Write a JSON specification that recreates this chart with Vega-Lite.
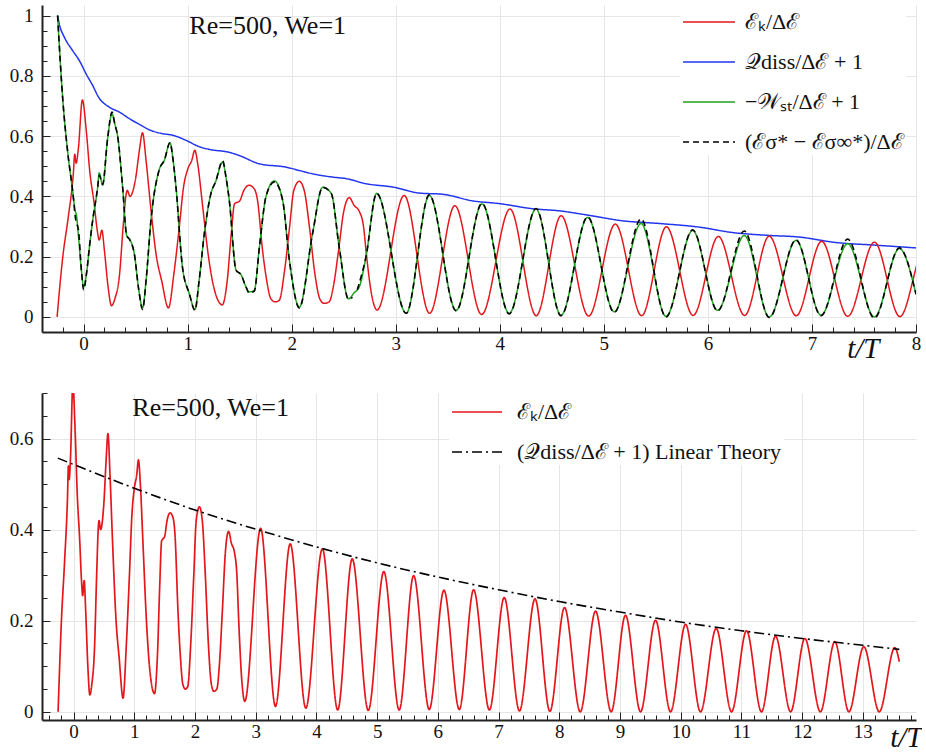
{
"$schema": "https://vega.github.io/schema/vega-lite/v6.json",
"background": "white",
"padding": {"left": 9, "top": -7, "right": 0, "bottom": 0},
"autosize": {"type": "pad"},
"spacing": 61,
"bounds": "flush",
"config": {"view": {"stroke": null}},
"resolve": {"scale": {"color": "independent", "strokeDash": "independent"}, "legend": {"color": "independent", "strokeDash": "independent"}},
"datasets": {
"curves": [
{"s":"ek","t":-0.255,"v":0},{"s":"ek","t":-0.2,"v":0.2},{"s":"ek","t":-0.148,"v":0.33},{"s":"ek","t":-0.1,"v":0.47},{"s":"ek","t":-0.085,"v":0.54},{"s":"ek","t":-0.072,"v":0.51},{"s":"ek","t":-0.05,"v":0.56},{"s":"ek","t":-0.012,"v":0.72},{"s":"ek","t":0.025,"v":0.62},{"s":"ek","t":0.06,"v":0.48},{"s":"ek","t":0.1,"v":0.38},{"s":"ek","t":0.13,"v":0.29},{"s":"ek","t":0.15,"v":0.255},{"s":"ek","t":0.175,"v":0.288},{"s":"ek","t":0.2,"v":0.22},{"s":"ek","t":0.235,"v":0.1},{"s":"ek","t":0.268,"v":0.037},{"s":"ek","t":0.3,"v":0.06},{"s":"ek","t":0.345,"v":0.14},{"s":"ek","t":0.38,"v":0.3},{"s":"ek","t":0.41,"v":0.41},{"s":"ek","t":0.42,"v":0.42},{"s":"ek","t":0.445,"v":0.4},{"s":"ek","t":0.5,"v":0.46},{"s":"ek","t":0.535,"v":0.55},{"s":"ek","t":0.566,"v":0.611},{"s":"ek","t":0.6,"v":0.52},{"s":"ek","t":0.64,"v":0.38},{"s":"ek","t":0.7,"v":0.2},{"s":"ek","t":0.75,"v":0.12},{"s":"ek","t":0.815,"v":0.03},{"s":"ek","t":0.87,"v":0.15},{"s":"ek","t":0.92,"v":0.3},{"s":"ek","t":0.96,"v":0.43},{"s":"ek","t":1.0,"v":0.49},{"s":"ek","t":1.04,"v":0.52},{"s":"ek","t":1.068,"v":0.553},{"s":"ek","t":1.1,"v":0.5},{"s":"ek","t":1.14,"v":0.38},{"s":"ek","t":1.2,"v":0.2},{"s":"ek","t":1.25,"v":0.1},{"s":"ek","t":1.333,"v":0.04},{"s":"ek","t":1.38,"v":0.12},{"s":"ek","t":1.42,"v":0.28},{"s":"ek","t":1.45,"v":0.375},{"s":"ek","t":1.5,"v":0.385},{"s":"ek","t":1.54,"v":0.42},{"s":"ek","t":1.59,"v":0.437},{"s":"ek","t":1.64,"v":0.425},{"s":"ek","t":1.67,"v":0.39},{"s":"ek","t":1.72,"v":0.22},{"s":"ek","t":1.76,"v":0.12},{"s":"ek","t":1.8,"v":0.06},{"s":"ek","t":1.84,"v":0.05},{"s":"ek","t":1.88,"v":0.055},{"s":"ek","t":1.93,"v":0.15},{"s":"ek","t":1.98,"v":0.3},{"s":"ek","t":2.02,"v":0.42},{"s":"ek","t":2.073,"v":0.45},{"s":"ek","t":2.12,"v":0.42},{"s":"ek","t":2.17,"v":0.3},{"s":"ek","t":2.22,"v":0.15},{"s":"ek","t":2.27,"v":0.06},{"s":"ek","t":2.31,"v":0.045},{"s":"ek","t":2.36,"v":0.05},{"s":"ek","t":2.4,"v":0.1},{"s":"ek","t":2.45,"v":0.22},{"s":"ek","t":2.5,"v":0.35},{"s":"ek","t":2.553,"v":0.396},{"s":"ek","t":2.6,"v":0.37},{"s":"ek","t":2.65,"v":0.35},{"s":"ek","t":2.69,"v":0.3},{"s":"ek","t":2.72,"v":0.2},{"s":"ek","t":2.77,"v":0.07},{"s":"ek","t":2.82,"v":0.023},
{"s":"ek","t":3.081,"v":0.403},{"s":"ek","t":3.325,"v":0.012},{"s":"ek","t":3.568,"v":0.369},{"s":"ek","t":3.825,"v":0.008},{"s":"ek","t":4.098,"v":0.358},{"s":"ek","t":4.35,"v":0.004},{"s":"ek","t":4.589,"v":0.336},{"s":"ek","t":4.854,"v":0.003},{"s":"ek","t":5.11,"v":0.308},{"s":"ek","t":5.363,"v":0.004},{"s":"ek","t":5.601,"v":0.299},{"s":"ek","t":5.858,"v":0.005},{"s":"ek","t":6.1,"v":0.267},{"s":"ek","t":6.353,"v":0.005},{"s":"ek","t":6.589,"v":0.268},{"s":"ek","t":6.849,"v":0.004},{"s":"ek","t":7.093,"v":0.251},{"s":"ek","t":7.344,"v":0.002},{"s":"ek","t":7.6,"v":0.248},{"s":"ek","t":7.845,"v":0.001},{"s":"ek","t":8.086,"v":0.229},{"s":"ek","t":8.345,"v":0},{"s":"ek","t":8.597,"v":0.221},{"s":"ek","t":8.855,"v":0},{"s":"ek","t":9.09,"v":0.212},{"s":"ek","t":9.338,"v":0},{"s":"ek","t":9.585,"v":0.201},{"s":"ek","t":9.832,"v":0},{"s":"ek","t":10.08,"v":0.192},{"s":"ek","t":10.326,"v":0},{"s":"ek","t":10.584,"v":0.183},{"s":"ek","t":10.837,"v":0},{"s":"ek","t":11.084,"v":0.178},{"s":"ek","t":11.33,"v":0},{"s":"ek","t":11.561,"v":0.166},{"s":"ek","t":11.81,"v":0},{"s":"ek","t":12.044,"v":0.161},{"s":"ek","t":12.3,"v":0},{"s":"ek","t":12.538,"v":0.154},{"s":"ek","t":12.77,"v":0},{"s":"ek","t":13.015,"v":0.143},{"s":"ek","t":13.27,"v":0},{"s":"ek","t":13.526,"v":0.141},{"s":"ek","t":13.6,"v":0.11},
{"s":"qd","t":-0.25,"v":1.0},{"s":"qd","t":-0.234,"v":0.972},{"s":"qd","t":-0.185,"v":0.928},{"s":"qd","t":-0.106,"v":0.884},{"s":"qd","t":-0.04,"v":0.85},{"s":"qd","t":0.023,"v":0.807},{"s":"qd","t":0.087,"v":0.768},{"s":"qd","t":0.144,"v":0.729},{"s":"qd","t":0.247,"v":0.696},{"s":"qd","t":0.343,"v":0.68},{"s":"qd","t":0.439,"v":0.658},{"s":"qd","t":0.535,"v":0.639},{"s":"qd","t":0.631,"v":0.621},{"s":"qd","t":0.76,"v":0.608},{"s":"qd","t":0.855,"v":0.603},{"s":"qd","t":0.984,"v":0.586},{"s":"qd","t":1.11,"v":0.565},{"s":"qd","t":1.208,"v":0.556},{"s":"qd","t":1.4,"v":0.546},{"s":"qd","t":1.5,"v":0.535},{"s":"qd","t":1.689,"v":0.508},{"s":"qd","t":1.945,"v":0.497},{"s":"qd","t":2.073,"v":0.486},{"s":"qd","t":2.2,"v":0.475},{"s":"qd","t":2.393,"v":0.464},{"s":"qd","t":2.52,"v":0.459},{"s":"qd","t":2.714,"v":0.442},{"s":"qd","t":2.97,"v":0.431},{"s":"qd","t":3.226,"v":0.411},{"s":"qd","t":3.45,"v":0.407},{"s":"qd","t":3.739,"v":0.385},{"s":"qd","t":3.995,"v":0.376},{"s":"qd","t":4.315,"v":0.359},{"s":"qd","t":4.572,"v":0.352},{"s":"qd","t":4.86,"v":0.337},{"s":"qd","t":5.18,"v":0.319},{"s":"qd","t":5.533,"v":0.31},{"s":"qd","t":5.917,"v":0.298},{"s":"qd","t":6.237,"v":0.28},{"s":"qd","t":6.56,"v":0.271},{"s":"qd","t":6.878,"v":0.265},{"s":"qd","t":7.23,"v":0.247},{"s":"qd","t":7.615,"v":0.238},{"s":"qd","t":8.0,"v":0.229},
{"s":"ws","t":-0.25,"v":1.0},{"s":"ws","t":-0.2,"v":0.72},{"s":"ws","t":-0.154,"v":0.55},{"s":"ws","t":-0.106,"v":0.42},{"s":"ws","t":-0.08,"v":0.35},{"s":"ws","t":-0.07,"v":0.34},{"s":"ws","t":-0.05,"v":0.27},{"s":"ws","t":-0.02,"v":0.15},{"s":"ws","t":0.0,"v":0.1},{"s":"ws","t":0.03,"v":0.15},{"s":"ws","t":0.055,"v":0.23},{"s":"ws","t":0.087,"v":0.32},{"s":"ws","t":0.135,"v":0.43},{"s":"ws","t":0.15,"v":0.478},{"s":"ws","t":0.183,"v":0.437},{"s":"ws","t":0.23,"v":0.59},{"s":"ws","t":0.273,"v":0.674},{"s":"ws","t":0.3,"v":0.64},{"s":"ws","t":0.327,"v":0.6},{"s":"ws","t":0.375,"v":0.43},{"s":"ws","t":0.414,"v":0.27},{"s":"ws","t":0.445,"v":0.257},{"s":"ws","t":0.487,"v":0.21},{"s":"ws","t":0.53,"v":0.09},{"s":"ws","t":0.567,"v":0.03},{"s":"ws","t":0.6,"v":0.12},{"s":"ws","t":0.647,"v":0.32},{"s":"ws","t":0.728,"v":0.49},{"s":"ws","t":0.776,"v":0.52},{"s":"ws","t":0.83,"v":0.578},{"s":"ws","t":0.86,"v":0.52},{"s":"ws","t":0.888,"v":0.43},{"s":"ws","t":0.95,"v":0.165},{"s":"ws","t":1.016,"v":0.077},{"s":"ws","t":1.07,"v":0.025},{"s":"ws","t":1.11,"v":0.12},{"s":"ws","t":1.16,"v":0.276},{"s":"ws","t":1.224,"v":0.41},{"s":"ws","t":1.27,"v":0.45},{"s":"ws","t":1.336,"v":0.514},{"s":"ws","t":1.37,"v":0.46},{"s":"ws","t":1.4,"v":0.387},{"s":"ws","t":1.465,"v":0.155},{"s":"ws","t":1.513,"v":0.14},{"s":"ws","t":1.56,"v":0.1},{"s":"ws","t":1.59,"v":0.083},{"s":"ws","t":1.64,"v":0.088},{"s":"ws","t":1.689,"v":0.23},{"s":"ws","t":1.753,"v":0.4},{"s":"ws","t":1.833,"v":0.451},{"s":"ws","t":1.913,"v":0.387},{"s":"ws","t":1.977,"v":0.19},{"s":"ws","t":2.073,"v":0.033},{"s":"ws","t":2.2,"v":0.276},{"s":"ws","t":2.297,"v":0.43},{"s":"ws","t":2.38,"v":0.41},{"s":"ws","t":2.457,"v":0.23},{"s":"ws","t":2.545,"v":0.06},{"s":"ws","t":2.6,"v":0.08},{"s":"ws","t":2.65,"v":0.1},{"s":"ws","t":2.714,"v":0.2},{"s":"ws","t":2.816,"v":0.41},{"s":"ws","t":3.1,"v":0.012},{"s":"ws","t":3.322,"v":0.403},{"s":"ws","t":3.58,"v":0.022},{"s":"ws","t":3.829,"v":0.375},{"s":"ws","t":4.09,"v":0.012},{"s":"ws","t":4.348,"v":0.358},{"s":"ws","t":4.588,"v":0.006},{"s":"ws","t":4.844,"v":0.33},{"s":"ws","t":5.1,"v":0.017},{"s":"ws","t":5.357,"v":0.31},{"s":"ws","t":5.597,"v":0.002},{"s":"ws","t":5.853,"v":0.287},{"s":"ws","t":6.093,"v":0.022},{"s":"ws","t":6.35,"v":0.27},{"s":"ws","t":6.59,"v":0},{"s":"ws","t":6.847,"v":0.254},{"s":"ws","t":7.087,"v":0.006},{"s":"ws","t":7.343,"v":0.243},{"s":"ws","t":7.6,"v":0},{"s":"ws","t":7.84,"v":0.227},{"s":"ws","t":8.0,"v":0.075},
{"s":"es","g":1,"t":-0.25,"v":1.0},{"s":"es","g":1,"t":-0.2,"v":0.72},{"s":"es","g":1,"t":-0.154,"v":0.55},{"s":"es","g":1,"t":-0.106,"v":0.42},{"s":"es","g":1,"t":-0.075,"v":0.32},{"s":"es","g":1,"t":-0.05,"v":0.29},{"s":"es","g":1,"t":-0.02,"v":0.15},{"s":"es","g":1,"t":0.0,"v":0.09},{"s":"es","g":1,"t":0.03,"v":0.15},{"s":"es","g":1,"t":0.055,"v":0.23},{"s":"es","g":1,"t":0.087,"v":0.32},{"s":"es","g":1,"t":0.135,"v":0.43},{"s":"es","g":1,"t":0.15,"v":0.47},{"s":"es","g":1,"t":0.183,"v":0.44},{"s":"es","g":1,"t":0.23,"v":0.59},{"s":"es","g":1,"t":0.273,"v":0.68},{"s":"es","g":1,"t":0.3,"v":0.64},{"s":"es","g":1,"t":0.327,"v":0.6},{"s":"es","g":1,"t":0.375,"v":0.43},{"s":"es","g":1,"t":0.414,"v":0.27},{"s":"es","g":1,"t":0.445,"v":0.255},{"s":"es","g":1,"t":0.487,"v":0.21},{"s":"es","g":1,"t":0.53,"v":0.09},{"s":"es","g":1,"t":0.567,"v":0.025},{"s":"es","g":1,"t":0.6,"v":0.12},{"s":"es","g":1,"t":0.647,"v":0.32},{"s":"es","g":1,"t":0.728,"v":0.49},{"s":"es","g":1,"t":0.776,"v":0.52},{"s":"es","g":1,"t":0.83,"v":0.578},{"s":"es","g":1,"t":0.86,"v":0.52},{"s":"es","g":1,"t":0.888,"v":0.43},{"s":"es","g":1,"t":0.95,"v":0.165},{"s":"es","g":1,"t":1.016,"v":0.077},{"s":"es","g":1,"t":1.07,"v":0.022},{"s":"es","g":1,"t":1.11,"v":0.12},{"s":"es","g":1,"t":1.16,"v":0.276},{"s":"es","g":1,"t":1.224,"v":0.41},{"s":"es","g":1,"t":1.27,"v":0.45},{"s":"es","g":1,"t":1.336,"v":0.518},{"s":"es","g":1,"t":1.37,"v":0.46},{"s":"es","g":1,"t":1.4,"v":0.387},{"s":"es","g":1,"t":1.465,"v":0.155},{"s":"es","g":1,"t":1.513,"v":0.14},{"s":"es","g":1,"t":1.56,"v":0.1},{"s":"es","g":1,"t":1.59,"v":0.08},{"s":"es","g":1,"t":1.64,"v":0.085},{"s":"es","g":1,"t":1.689,"v":0.23},{"s":"es","g":1,"t":1.753,"v":0.4},{"s":"es","g":1,"t":1.833,"v":0.448},{"s":"es","g":1,"t":1.913,"v":0.387},{"s":"es","g":1,"t":1.977,"v":0.19},{"s":"es","g":1,"t":2.073,"v":0.03},{"s":"es","g":1,"t":2.2,"v":0.276},{"s":"es","g":1,"t":2.297,"v":0.43},{"s":"es","g":1,"t":2.38,"v":0.41},{"s":"es","g":1,"t":2.457,"v":0.23},{"s":"es","g":1,"t":2.545,"v":0.06},{"s":"es","g":1,"t":2.585,"v":0.065},
{"s":"es","g":2,"t":2.63,"v":0.09},{"s":"es","g":2,"t":2.714,"v":0.2},{"s":"es","g":2,"t":2.816,"v":0.41},{"s":"es","g":2,"t":3.1,"v":0.012},{"s":"es","g":2,"t":3.322,"v":0.405},{"s":"es","g":2,"t":3.58,"v":0.02},{"s":"es","g":2,"t":3.829,"v":0.377},{"s":"es","g":2,"t":4.09,"v":0.01},{"s":"es","g":2,"t":4.348,"v":0.36},{"s":"es","g":2,"t":4.588,"v":0.004},{"s":"es","g":2,"t":4.844,"v":0.332},{"s":"es","g":2,"t":5.1,"v":0.015},{"s":"es","g":2,"t":5.357,"v":0.325},{"s":"es","g":2,"t":5.597,"v":0.0},{"s":"es","g":2,"t":5.853,"v":0.289},{"s":"es","g":2,"t":6.093,"v":0.02},{"s":"es","g":2,"t":6.35,"v":0.285},{"s":"es","g":2,"t":6.59,"v":-0.002},{"s":"es","g":2,"t":6.847,"v":0.256},{"s":"es","g":2,"t":7.087,"v":0.004},{"s":"es","g":2,"t":7.343,"v":0.258},{"s":"es","g":2,"t":7.6,"v":-0.004},{"s":"es","g":2,"t":7.84,"v":0.229},{"s":"es","g":2,"t":8.0,"v":0.075},
{"s":"lt","t":-0.26,"v":0.557},{"s":"lt","t":0,"v":0.543},{"s":"lt","t":1,"v":0.491},{"s":"lt","t":2,"v":0.443},{"s":"lt","t":3,"v":0.401},{"s":"lt","t":4,"v":0.362},{"s":"lt","t":5,"v":0.327},{"s":"lt","t":6,"v":0.296},{"s":"lt","t":7,"v":0.268},{"s":"lt","t":8,"v":0.242},{"s":"lt","t":9,"v":0.219},{"s":"lt","t":10,"v":0.197},{"s":"lt","t":11,"v":0.178},{"s":"lt","t":12,"v":0.161},{"s":"lt","t":13,"v":0.146},{"s":"lt","t":13.6,"v":0.137}
]
},
"vconcat": [
{
 "width": 874, "height": 327,
 "resolve": {"axis": {"x": "independent", "y": "independent"}},
 "layer": [
  {
   "data": {"name": "curves"},
   "transform": [{"filter": "datum.s == 'qd'"}],
   "mark": {"type": "line", "clip": true, "interpolate": "monotone", "strokeWidth": 1.5},
   "encoding": {
    "x": {"field": "t", "type": "quantitative", "scale": {"domain": [-0.4, 8], "nice": false, "zero": false},
     "axis": {"orient": "bottom", "values": [0,1,2,3,4,5,6,7,8], "format": "d",
      "grid": true, "gridColor": "#e6e6e6", "gridWidth": 1,
      "domain": true, "domainColor": "#222", "domainWidth": 2,
      "ticks": true, "tickSize": -8, "tickColor": "#222", "tickWidth": 1,
      "labelOverlap": false, "labelBound": false, "labelFlush": false,
      "labelFont": "Liberation Serif", "labelFontSize": 19, "labelColor": "#111", "labelPadding": 10,
      "title": "t/T", "titleFont": "Liberation Serif", "titleFontWeight": "normal", "titleColor": "#111", "titleFontStyle": "italic", "titleFontSize": 29, "titleAnchor": "end", "titleAlign": "right", "titleBaseline": "alphabetic", "titleX": 837, "titleY": 25}},
    "y": {"field": "v", "type": "quantitative", "scale": {"domain": [-0.05, 1.035], "nice": false, "zero": false},
     "axis": {"orient": "left", "values": [0,0.2,0.4,0.6,0.8,1], "format": "~g",
      "grid": true, "gridColor": "#e6e6e6", "gridWidth": 1,
      "domain": true, "domainColor": "#222", "domainWidth": 2,
      "ticks": true, "tickSize": -8, "tickColor": "#222", "tickWidth": 1,
      "labelOverlap": false, "labelBound": false, "labelFlush": false,
      "labelFont": "Liberation Serif", "labelFontSize": 19, "labelColor": "#111", "labelPadding": 17, "title": null}},
    "color": {"datum": "𝒬diss/Δℰ + 1", "type": "nominal",
     "scale": {"domain": ["ℰₖ/Δℰ", "𝒬diss/Δℰ + 1", "−𝒲ₛₜ/Δℰ + 1", "(ℰσ* − ℰσ∞*)/Δℰ"], "range": ["#e3161c", "#2236ee", "#1ea41e", "#000000"]},
     "legend": {"orient": "none", "legendX": 638, "legendY": -12, "title": null, "fillColor": "white", "padding": 2, "symbolType": "stroke", "symbolSize": 2700, "symbolStrokeWidth": 1.5, "labelFont": "Liberation Serif", "labelColor": "#111", "labelFontSize": 22, "labelOffset": 9, "rowPadding": 2, "labelLimit": 400}},
    "strokeDash": {"datum": "𝒬diss/Δℰ + 1", "type": "nominal",
     "scale": {"domain": ["ℰₖ/Δℰ", "𝒬diss/Δℰ + 1", "−𝒲ₛₜ/Δℰ + 1", "(ℰσ* − ℰσ∞*)/Δℰ"], "range": [[1,0],[1,0],[1,0],[6,4]]},
     "legend": {"orient": "none", "legendX": 638, "legendY": -12, "title": null, "fillColor": "white", "padding": 2, "symbolType": "stroke", "symbolSize": 2700, "symbolStrokeWidth": 1.5, "labelFont": "Liberation Serif", "labelColor": "#111", "labelFontSize": 22, "labelOffset": 9, "rowPadding": 2, "labelLimit": 400}}
   }
  },
  {
   "data": {"name": "curves"},
   "transform": [{"filter": "datum.s == 'ek'"}],
   "mark": {"type": "line", "clip": true, "interpolate": "monotone", "strokeWidth": 1.5},
   "encoding": {
    "x": {"field": "t", "type": "quantitative",
     "axis": {"orient": "bottom", "values": [-0.2,0.2,0.4,0.6,0.8,1.2,1.4,1.6,1.8,2.2,2.4,2.6,2.8,3.2,3.4,3.6,3.8,4.2,4.4,4.6,4.8,5.2,5.4,5.6,5.8,6.2,6.4,6.6,6.8,7.2,7.4,7.6,7.8],
      "grid": false, "domain": false, "labels": false, "ticks": true, "tickSize": -5, "tickColor": "#222", "tickWidth": 1, "title": null}},
    "y": {"field": "v", "type": "quantitative",
     "axis": {"orient": "left", "values": [-0.05,0.05,0.1,0.15,0.25,0.3,0.35,0.45,0.5,0.55,0.65,0.7,0.75,0.85,0.9,0.95],
      "grid": false, "domain": false, "labels": false, "ticks": true, "tickSize": -5, "tickColor": "#222", "tickWidth": 1, "title": null}},
    "color": {"datum": "ℰₖ/Δℰ", "type": "nominal"}, "strokeDash": {"datum": "ℰₖ/Δℰ", "type": "nominal"}}
  },
  {
   "data": {"name": "curves"},
   "transform": [{"filter": "datum.s == 'ws'"}],
   "mark": {"type": "line", "clip": true, "interpolate": "monotone", "strokeWidth": 1.5},
   "encoding": {"x": {"field": "t", "type": "quantitative", "axis": null}, "y": {"field": "v", "type": "quantitative", "axis": null}, "color": {"datum": "−𝒲ₛₜ/Δℰ + 1", "type": "nominal"}, "strokeDash": {"datum": "−𝒲ₛₜ/Δℰ + 1", "type": "nominal"}}
  },
  {
   "data": {"name": "curves"},
   "transform": [{"filter": "datum.s == 'es'"}],
   "mark": {"type": "line", "clip": true, "interpolate": "monotone", "strokeWidth": 1.6},
   "encoding": {"x": {"field": "t", "type": "quantitative", "axis": null}, "y": {"field": "v", "type": "quantitative", "axis": null}, "detail": {"field": "g"}, "color": {"datum": "(ℰσ* − ℰσ∞*)/Δℰ", "type": "nominal"}, "strokeDash": {"datum": "(ℰσ* − ℰσ∞*)/Δℰ", "type": "nominal"}}
  },
  {
   "data": {"values": [{"label": "Re=500, We=1"}]},
   "mark": {"type": "text", "align": "left", "baseline": "alphabetic", "font": "Liberation Serif", "fontSize": 26, "color": "#111"},
   "encoding": {"x": {"datum": 1.016, "type": "quantitative", "axis": null}, "y": {"datum": 0.939, "type": "quantitative", "axis": null}, "text": {"field": "label"}}
  }
 ]
},
{
 "width": 874, "height": 327,
 "resolve": {"axis": {"x": "independent", "y": "independent"}},
 "layer": [
  {
   "data": {"name": "curves"},
   "transform": [{"filter": "datum.s == 'ek'"}],
   "mark": {"type": "line", "clip": true, "interpolate": "monotone", "strokeWidth": 1.7},
   "encoding": {
    "x": {"field": "t", "type": "quantitative", "scale": {"domain": [-0.52, 13.875], "nice": false, "zero": false},
     "axis": {"orient": "bottom", "values": [0,1,2,3,4,5,6,7,8,9,10,11,12,13], "format": "d",
      "grid": true, "gridColor": "#e6e6e6", "gridWidth": 1,
      "domain": true, "domainColor": "#222", "domainWidth": 2,
      "ticks": true, "tickSize": -8, "tickColor": "#222", "tickWidth": 1,
      "labelOverlap": false, "labelBound": false, "labelFlush": false,
      "labelFont": "Liberation Serif", "labelFontSize": 19, "labelColor": "#111", "labelPadding": 10,
      "title": "t/T", "titleFont": "Liberation Serif", "titleFontWeight": "normal", "titleColor": "#111", "titleFontStyle": "italic", "titleFontSize": 29, "titleAnchor": "end", "titleAlign": "right", "titleBaseline": "alphabetic", "titleX": 880, "titleY": 26}},
    "y": {"field": "v", "type": "quantitative", "scale": {"domain": [-0.018, 0.7], "nice": false, "zero": false},
     "axis": {"orient": "left", "values": [0,0.2,0.4,0.6], "format": "~g",
      "grid": true, "gridColor": "#e6e6e6", "gridWidth": 1,
      "domain": true, "domainColor": "#222", "domainWidth": 2,
      "ticks": true, "tickSize": -8, "tickColor": "#222", "tickWidth": 1,
      "labelOverlap": false, "labelBound": false, "labelFlush": false,
      "labelFont": "Liberation Serif", "labelFontSize": 19, "labelColor": "#111", "labelPadding": 17, "title": null}},
    "color": {"datum": "ℰₖ/Δℰ", "type": "nominal",
     "scale": {"domain": ["ℰₖ/Δℰ", "(𝒬diss/Δℰ + 1) Linear Theory"], "range": ["#e3161c", "#000000"]},
     "legend": {"orient": "none", "legendX": 407, "legendY": -9, "title": null, "fillColor": "white", "padding": 2, "symbolType": "stroke", "symbolSize": 2500, "symbolStrokeWidth": 1.6, "labelFont": "Liberation Serif", "labelColor": "#111", "labelFontSize": 22, "labelOffset": 14, "rowPadding": 3, "labelLimit": 500}},
    "strokeDash": {"datum": "ℰₖ/Δℰ", "type": "nominal",
     "scale": {"domain": ["ℰₖ/Δℰ", "(𝒬diss/Δℰ + 1) Linear Theory"], "range": [[1,0],[10,4,2,4]]},
     "legend": {"orient": "none", "legendX": 407, "legendY": -9, "title": null, "fillColor": "white", "padding": 2, "symbolType": "stroke", "symbolSize": 2500, "symbolStrokeWidth": 1.6, "labelFont": "Liberation Serif", "labelColor": "#111", "labelFontSize": 22, "labelOffset": 14, "rowPadding": 3, "labelLimit": 500}}
   }
  },
  {
   "data": {"name": "curves"},
   "transform": [{"filter": "datum.s == 'lt'"}],
   "mark": {"type": "line", "clip": true, "interpolate": "monotone", "strokeWidth": 1.6},
   "encoding": {
    "x": {"field": "t", "type": "quantitative",
     "axis": {"orient": "bottom", "values": [-0.4,-0.2,0.2,0.4,0.6,0.8,1.2,1.4,1.6,1.8,2.2,2.4,2.6,2.8,3.2,3.4,3.6,3.8,4.2,4.4,4.6,4.8,5.2,5.4,5.6,5.8,6.2,6.4,6.6,6.8,7.2,7.4,7.6,7.8,8.2,8.4,8.6,8.8,9.2,9.4,9.6,9.8,10.2,10.4,10.6,10.8,11.2,11.4,11.6,11.8,12.2,12.4,12.6,12.8,13.2,13.4,13.6,13.8],
      "grid": false, "domain": false, "labels": false, "ticks": true, "tickSize": -5, "tickColor": "#222", "tickWidth": 1, "title": null}},
    "y": {"field": "v", "type": "quantitative",
     "axis": {"orient": "left", "values": [0.05,0.1,0.15,0.25,0.3,0.35,0.45,0.5,0.55,0.65,0.7],
      "grid": false, "domain": false, "labels": false, "ticks": true, "tickSize": -5, "tickColor": "#222", "tickWidth": 1, "title": null}},
    "color": {"datum": "(𝒬diss/Δℰ + 1) Linear Theory", "type": "nominal"}, "strokeDash": {"datum": "(𝒬diss/Δℰ + 1) Linear Theory", "type": "nominal"}}
  },
  {
   "data": {"values": [{"label": "Re=500, We=1"}]},
   "mark": {"type": "text", "align": "left", "baseline": "alphabetic", "font": "Liberation Serif", "fontSize": 26, "color": "#111"},
   "encoding": {"x": {"datum": 0.967, "type": "quantitative", "axis": null}, "y": {"datum": 0.649, "type": "quantitative", "axis": null}, "text": {"field": "label"}}
  }
 ]
}
]
}
